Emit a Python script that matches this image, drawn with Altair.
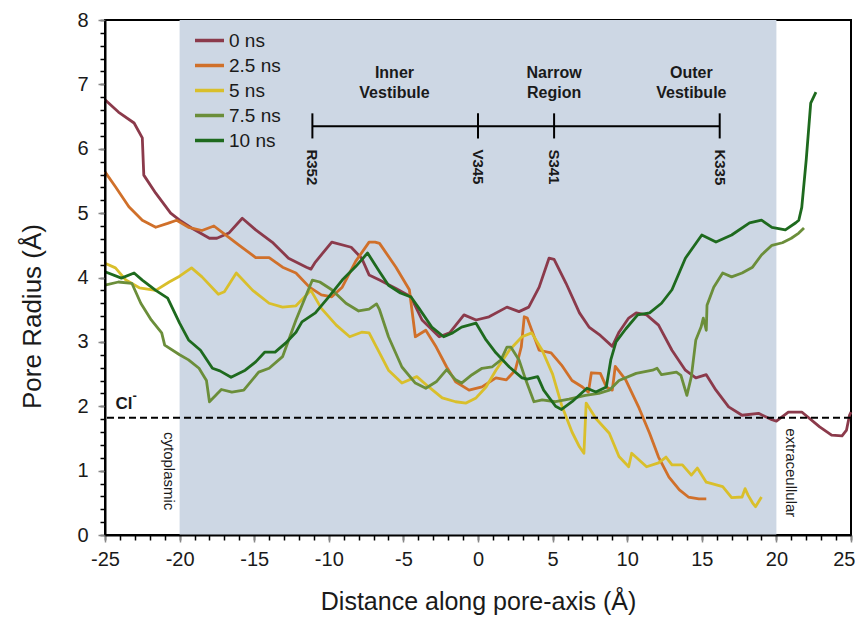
import altair as alt
import pandas as pd

# ---------------- data ----------------
series_names = ["0 ns", "2.5 ns", "5 ns", "7.5 ns", "10 ns"]
series_colors = ["#8b3a4b", "#d0702a", "#d9bf2b", "#6b8e3a", "#1e6a1e"]

x_0ns = [-25, -24.1, -23.05, -22.5, -22.4, -21.6, -20.6, -20.0, -19.2, -18.0, -17.5, -16.7,
         -15.8, -14.9, -13.8, -12.7, -11.5, -11.2, -10.9, -9.8, -8.5, -7.8, -7.3, -6.6, -5.5,
         -4.5, -3.75, -2.6, -1.9, -0.94, -0.13, 0.74, 1.94, 2.75, 3.4, 4.1, 4.76, 5.1, 5.9,
         6.8, 7.44, 8.2, 9.0, 9.45, 10.1, 10.6, 11.3, 12.1, 13.0, 13.9, 14.6, 15.3, 15.95,
         16.8, 17.7, 18.8, 19.7, 20.0, 20.8, 21.7, 22.9, 23.7, 24.4, 24.7, 24.9, 25.0]
r_0ns = [6.76, 6.57, 6.40, 6.17, 5.59, 5.31, 5.00, 4.89, 4.77, 4.61, 4.61, 4.69,
         4.92, 4.74, 4.55, 4.30, 4.16, 4.13, 4.24, 4.55, 4.47, 4.30, 4.04, 3.96, 3.83,
         3.70, 3.34, 3.08, 3.14, 3.42, 3.34, 3.39, 3.54, 3.47, 3.54, 3.85, 4.30, 4.28, 3.91,
         3.45, 3.23, 3.10, 2.93, 3.15, 3.37, 3.45, 3.42, 3.26, 2.87, 2.56, 2.44, 2.49, 2.25,
         1.99, 1.86, 1.89, 1.79, 1.77, 1.91, 1.91, 1.68, 1.55, 1.54, 1.63, 1.86, 1.91]

x_2_5ns = [-25, -24.3, -23.4, -22.5, -21.6, -20.8, -20.2, -19.4, -18.5, -17.7, -16.9, -16.0,
           -14.9, -14.0, -13.1, -12.2, -11.3, -10.5, -9.8, -9.1, -8.2, -7.3, -6.9, -6.6, -5.5,
           -4.6, -4.2, -3.5, -2.8, -2.1, -1.5, -0.6, 0.27, 1.2, 1.9, 2.5, 2.9, 3.1, 3.3, 4.1,
           4.9, 5.6, 6.3, 7.0, 7.4, 7.6, 8.2, 8.6, 9.0, 9.2, 9.9, 10.8, 11.5, 12.1, 12.8, 13.5,
           14.1, 14.8, 15.3]
r_2_5ns = [5.64, 5.41, 5.10, 4.89, 4.78, 4.84, 4.89, 4.78, 4.73, 4.80, 4.66, 4.50,
           4.31, 4.31, 4.16, 4.07, 3.85, 3.73, 3.70, 3.85, 4.25, 4.55, 4.55, 4.53, 4.16,
           3.81, 3.08, 3.18, 2.92, 2.61, 2.38, 2.25, 2.30, 2.44, 2.41, 2.56, 2.92, 3.39, 3.37, 2.87,
           2.83, 2.64, 2.40, 2.30, 2.22, 2.52, 2.51, 2.30, 2.25, 2.62, 2.41, 1.97, 1.58, 1.21, 0.90, 0.70,
           0.59, 0.56, 0.56]

x_5ns = [-25, -24.3, -23.6, -22.7, -21.6, -20.7, -20.0, -19.2, -18.5, -17.4, -17.0, -16.2,
         -15.1, -14.0, -13.1, -12.2, -11.2, -10.5, -9.5, -8.6, -7.8, -7.3, -6.6, -6.0, -5.1,
         -4.1, -3.3, -2.4, -1.5, -0.8, -0.13, 0.54, 1.2, 2.1, 2.95, 3.6, 4.3, 5.0, 5.6, 6.3,
         6.8, 7.1, 7.25, 7.9, 8.8, 9.45, 10.1, 10.3, 11.3, 12.1, 12.6, 13.0, 13.7, 14.3, 14.7,
         15.3, 16.4, 17.0, 17.7, 17.9, 18.1, 18.4, 18.6, 19.0]
r_5ns = [4.22, 4.15, 3.96, 3.84, 3.80, 3.93, 4.02, 4.15, 4.01, 3.74, 3.78, 4.07,
         3.80, 3.60, 3.54, 3.56, 3.80, 3.52, 3.26, 3.08, 3.15, 3.14, 2.83, 2.56, 2.36,
         2.46, 2.30, 2.13, 2.07, 2.05, 2.13, 2.30, 2.56, 2.87, 3.08, 3.14, 2.87, 2.50, 2.02, 1.60,
         1.37, 1.27, 2.05, 1.81, 1.58, 1.22, 1.06, 1.27, 1.06, 1.12, 1.21, 1.09, 1.09, 0.93, 1.04,
         0.82, 0.75, 0.58, 0.59, 0.72, 0.62, 0.50, 0.44, 0.59]

x_7_5ns = [-25, -24.1, -23.2, -22.6, -21.9, -21.2, -21.0, -20.0, -19.4, -18.7, -18.2, -18.0,
           -17.2, -16.5, -15.7, -14.7, -14.0, -13.1, -12.2, -11.1, -10.6, -9.8, -8.85, -8.0,
           -7.3, -6.8, -6.6, -6.0, -5.1, -4.2, -3.5, -2.8, -2.1, -1.5, -1.1, -0.4, 0.27, 0.94,
           1.54, 1.94, 2.2, 2.75, 3.2, 3.75, 4.3, 5.2, 6.1, 7.2, 8.1, 8.8, 9.45, 10.6, 11.7,
           12.0, 12.3, 13.3, 13.6, 14.0, 14.3, 14.6, 14.95, 15.1, 15.3, 15.35, 15.8, 16.4, 17.0,
           17.7, 18.4, 19.0, 19.7, 20.4, 21.0, 21.5, 21.85]
r_7_5ns = [3.88, 3.93, 3.91, 3.60, 3.34, 3.14, 2.95, 2.80, 2.72, 2.59, 2.40, 2.07,
           2.26, 2.22, 2.25, 2.53, 2.59, 2.77, 3.34, 3.96, 3.93, 3.81, 3.60, 3.48,
           3.51, 3.59, 3.50, 3.08, 2.61, 2.36, 2.28, 2.38, 2.57, 2.41, 2.36, 2.49, 2.59, 2.61,
           2.72, 2.92, 2.92, 2.72, 2.41, 2.07, 2.10, 2.07, 2.11, 2.17, 2.20, 2.25, 2.40, 2.51, 2.56,
           2.59, 2.49, 2.53, 2.48, 2.17, 2.46, 3.03, 3.23, 3.37, 3.18, 3.57, 3.85, 4.07, 4.01,
           4.07, 4.16, 4.35, 4.50, 4.54, 4.61, 4.69, 4.77]

x_10ns = [-25, -23.9, -23.05, -22.5, -21.6, -20.8, -20.0, -19.4, -18.6, -17.8, -17.3, -16.55,
          -15.6, -14.9, -14.3, -13.6, -12.9, -12.2, -11.8, -10.9, -10.0, -9.1, -8.2, -7.4,
          -6.6, -6.0, -5.2, -4.5, -3.95, -3.1, -2.3, -1.7, -1.1, -0.13, 0.54, 1.2, 2.1, 2.95,
          3.3, 4.0, 4.4, 5.2, 5.6, 6.3, 7.3, 7.9, 8.6, 8.9, 9.25, 9.9, 10.7, 11.5, 12.3, 13.0,
          13.9, 15.0, 15.95, 17.0, 18.2, 19.0, 19.7, 20.6, 21.3, 21.5, 21.7, 22.0, 22.3, 22.65]
r_10ns = [4.09, 3.99, 4.07, 3.96, 3.80, 3.68, 3.29, 3.03, 2.87, 2.59, 2.55, 2.45,
          2.56, 2.69, 2.84, 2.84, 2.98, 3.15, 3.31, 3.45, 3.70, 3.96, 4.17, 4.38,
          4.09, 3.88, 3.76, 3.70, 3.52, 3.23, 3.08, 3.14, 3.23, 3.29, 3.03, 2.83, 2.61, 2.44,
          2.42, 2.46, 2.25, 2.00, 1.95, 2.07, 2.28, 2.22, 2.30, 2.72, 3.00, 3.20, 3.42, 3.45, 3.60, 3.81,
          4.30, 4.66, 4.55, 4.66, 4.85, 4.89, 4.78, 4.74, 4.85, 4.89, 5.09, 5.83, 6.71, 6.88]

# annotations
membrane_start = [-20]
membrane_end = [20]
cl_radius = [1.82]
residue_names = ["R352", "V345", "S341", "K335"]
residue_x = [-11.1, 0.0, 5.1, 16.2]
bar_y = 6.35
region_line1 = ["Inner", "Narrow", "Outer"]
region_line2 = ["Vestibule", "Region", "Vestibule"]
region_x = [-5.6, 5.1, 14.3]
side_labels = ["cytoplasmic", "extraceullular"]
side_x = [-20.7, 21.0]
side_y = [1.6, 1.66]
x_ticks = [-25, -20, -15, -10, -5, 0, 5, 10, 15, 20, 25]
y_ticks = [0, 1, 2, 3, 4, 5, 6, 7, 8]

# ---------------- build tables ----------------
rows = []
for name, xs, ys in zip(series_names,
                        [x_0ns, x_2_5ns, x_5ns, x_7_5ns, x_10ns],
                        [r_0ns, r_2_5ns, r_5ns, r_7_5ns, r_10ns]):
    for i, (a, b) in enumerate(zip(xs, ys)):
        rows.append({"series": name, "x": a, "y": b, "i": i})
curves = pd.DataFrame(rows)

FONT = "Liberation Sans"
XS = alt.Scale(domain=[-25, 25], nice=False, zero=False)
YS = alt.Scale(domain=[0, 8], nice=False)

minor_x = [v for v in range(-25, 26)]
minor_y = [round(v * 0.2, 1) for v in range(0, 41)]

shade = alt.Chart(pd.DataFrame({"x": membrane_start, "x2": membrane_end,
                                "y": [0], "y2": [8]})).mark_rect(color="#cdd7e4").encode(
    x=alt.X("x:Q", scale=XS, axis=alt.Axis(values=minor_x, labels=False, domain=False,
                                           tickSize=5, tickWidth=1.5, tickColor="black",
                                           title=None, orient="bottom", grid=False, zindex=1)),
    x2="x2:Q",
    y=alt.Y("y:Q", scale=YS, axis=alt.Axis(values=minor_y, labels=False, domain=False,
                                           tickSize=5, tickWidth=1.5, tickColor="black",
                                           title=None, orient="left", grid=False, zindex=1)),
    y2="y2:Q",
)

last_x = max(x_ticks)
lines = alt.Chart(curves).mark_line(strokeWidth=2.8, strokeJoin="round").encode(
    x=alt.X("x:Q", scale=XS, axis=alt.Axis(
        values=x_ticks, orient="bottom", tickSize=7, tickWidth=1.5, labelFontSize=20,
        labelPadding=7, labelFlush=False, labelExpr="'' + datum.value",
        labelAlign={"condition": {"test": f"datum.value == {last_x}", "value": "right"},
                    "value": "center"},
        labelOffset={"condition": {"test": f"datum.value == {last_x}", "value": 4},
                     "value": 0},
        title="Distance along pore-axis (Å)", titleFontSize=25,
        titleFontWeight="normal", titleX=373, titleY=66, titleBaseline="middle",
        titleAlign="center", zindex=1, grid=False)),
    y=alt.Y("y:Q", scale=YS, axis=alt.Axis(
        values=y_ticks, orient="left", tickSize=7, tickWidth=1.5, labelFontSize=20,
        labelPadding=10, labelFlush=False, title="Pore Radius (Å)", titleFontSize=26,
        titleFontWeight="normal", titleAngle=270, titleX=-73, titleY=296,
        titleBaseline="middle", titleAlign="center", zindex=1, grid=False)),
    color=alt.Color("series:N", scale=alt.Scale(domain=series_names, range=series_colors),
                    legend=alt.Legend(orient="none", legendX=95, legendY=11, title=None,
                                      symbolType="M-2,0H2", symbolSize=210,
                                      symbolStrokeWidth=3.5, labelFontSize=19,
                                      labelFont=FONT, labelOffset=10, rowPadding=5,
                                      padding=0, labelColor="#1a1a1a")),
    detail="series:N",
    order="i:Q",
)

cl_line = alt.Chart(pd.DataFrame({"y": cl_radius})).mark_rule(
    color="black", strokeWidth=2, strokeDash=[7, 4]).encode(
    y=alt.Y("y:Q", scale=YS, axis=None))

bar_df = pd.DataFrame({"x": [min(residue_x)], "x2": [max(residue_x)], "y": [bar_y]})
bar = alt.Chart(bar_df).mark_rule(color="black", strokeWidth=2).encode(
    x=alt.X("x:Q", scale=XS, axis=None), x2="x2:Q", y=alt.Y("y:Q", scale=YS, axis=None))

res_df = pd.DataFrame({"x": residue_x, "name": residue_names,
                       "y1": [bar_y + 0.2] * 4, "y2": [bar_y - 0.19] * 4,
                       "ty": [bar_y - 0.36] * 4})
res_ticks = alt.Chart(res_df).mark_rule(color="black", strokeWidth=2).encode(
    x=alt.X("x:Q", scale=XS, axis=None), y=alt.Y("y1:Q", scale=YS, axis=None), y2="y2:Q")
res_text = alt.Chart(res_df).mark_text(angle=90, align="left", baseline="middle",
                                       font=FONT, fontSize=15, fontWeight="bold",
                                       color="#1a1a1a").encode(
    x=alt.X("x:Q", scale=XS, axis=None), y=alt.Y("ty:Q", scale=YS, axis=None), text="name:N")

reg_df = pd.DataFrame({"x": region_x * 2, "y": [7.18] * 3 + [6.87] * 3,
                       "t": region_line1 + region_line2})
reg_text = alt.Chart(reg_df).mark_text(align="center", baseline="middle", font=FONT,
                                       fontSize=16, fontWeight="bold",
                                       color="#1a1a1a").encode(
    x=alt.X("x:Q", scale=XS, axis=None), y=alt.Y("y:Q", scale=YS, axis=None), text="t:N")

side_df = pd.DataFrame({"x": side_x, "y": side_y, "t": side_labels})
side_text = alt.Chart(side_df).mark_text(angle=90, align="left", baseline="middle",
                                         font=FONT, fontSize=15, color="#1a1a1a").encode(
    x=alt.X("x:Q", scale=XS, axis=None), y=alt.Y("y:Q", scale=YS, axis=None), text="t:N")

cl_df = pd.DataFrame({"x": [-24.3, -23.15], "y": [2.03, 2.16], "t": ["Cl", "-"],
                      "s": [17, 13]})
cl_text = alt.Chart(cl_df).mark_text(align="left", baseline="middle", font=FONT,
                                     fontWeight="bold", color="#1a1a1a").encode(
    x=alt.X("x:Q", scale=XS, axis=None), y=alt.Y("y:Q", scale=YS, axis=None), text="t:N",
    size=alt.Size("s:Q", scale=None, legend=None))

chart = alt.layer(shade, lines, cl_line, bar, res_ticks, res_text, reg_text, side_text,
                  cl_text).resolve_axis(x="independent", y="independent").properties(
    width=746, height=515,
    autosize=alt.AutoSizeParams(type="none"),
    padding={"left": 97, "top": 12, "right": 4, "bottom": 80},
).configure_view(stroke="black", strokeWidth=2).configure_axis(
    domainColor="black", domainWidth=2, labelFont=FONT, titleFont=FONT,
    labelColor="#1a1a1a", titleColor="#1a1a1a",
)

chart.save("out.html", embed_options={"renderer": "svg", "actions": False})
